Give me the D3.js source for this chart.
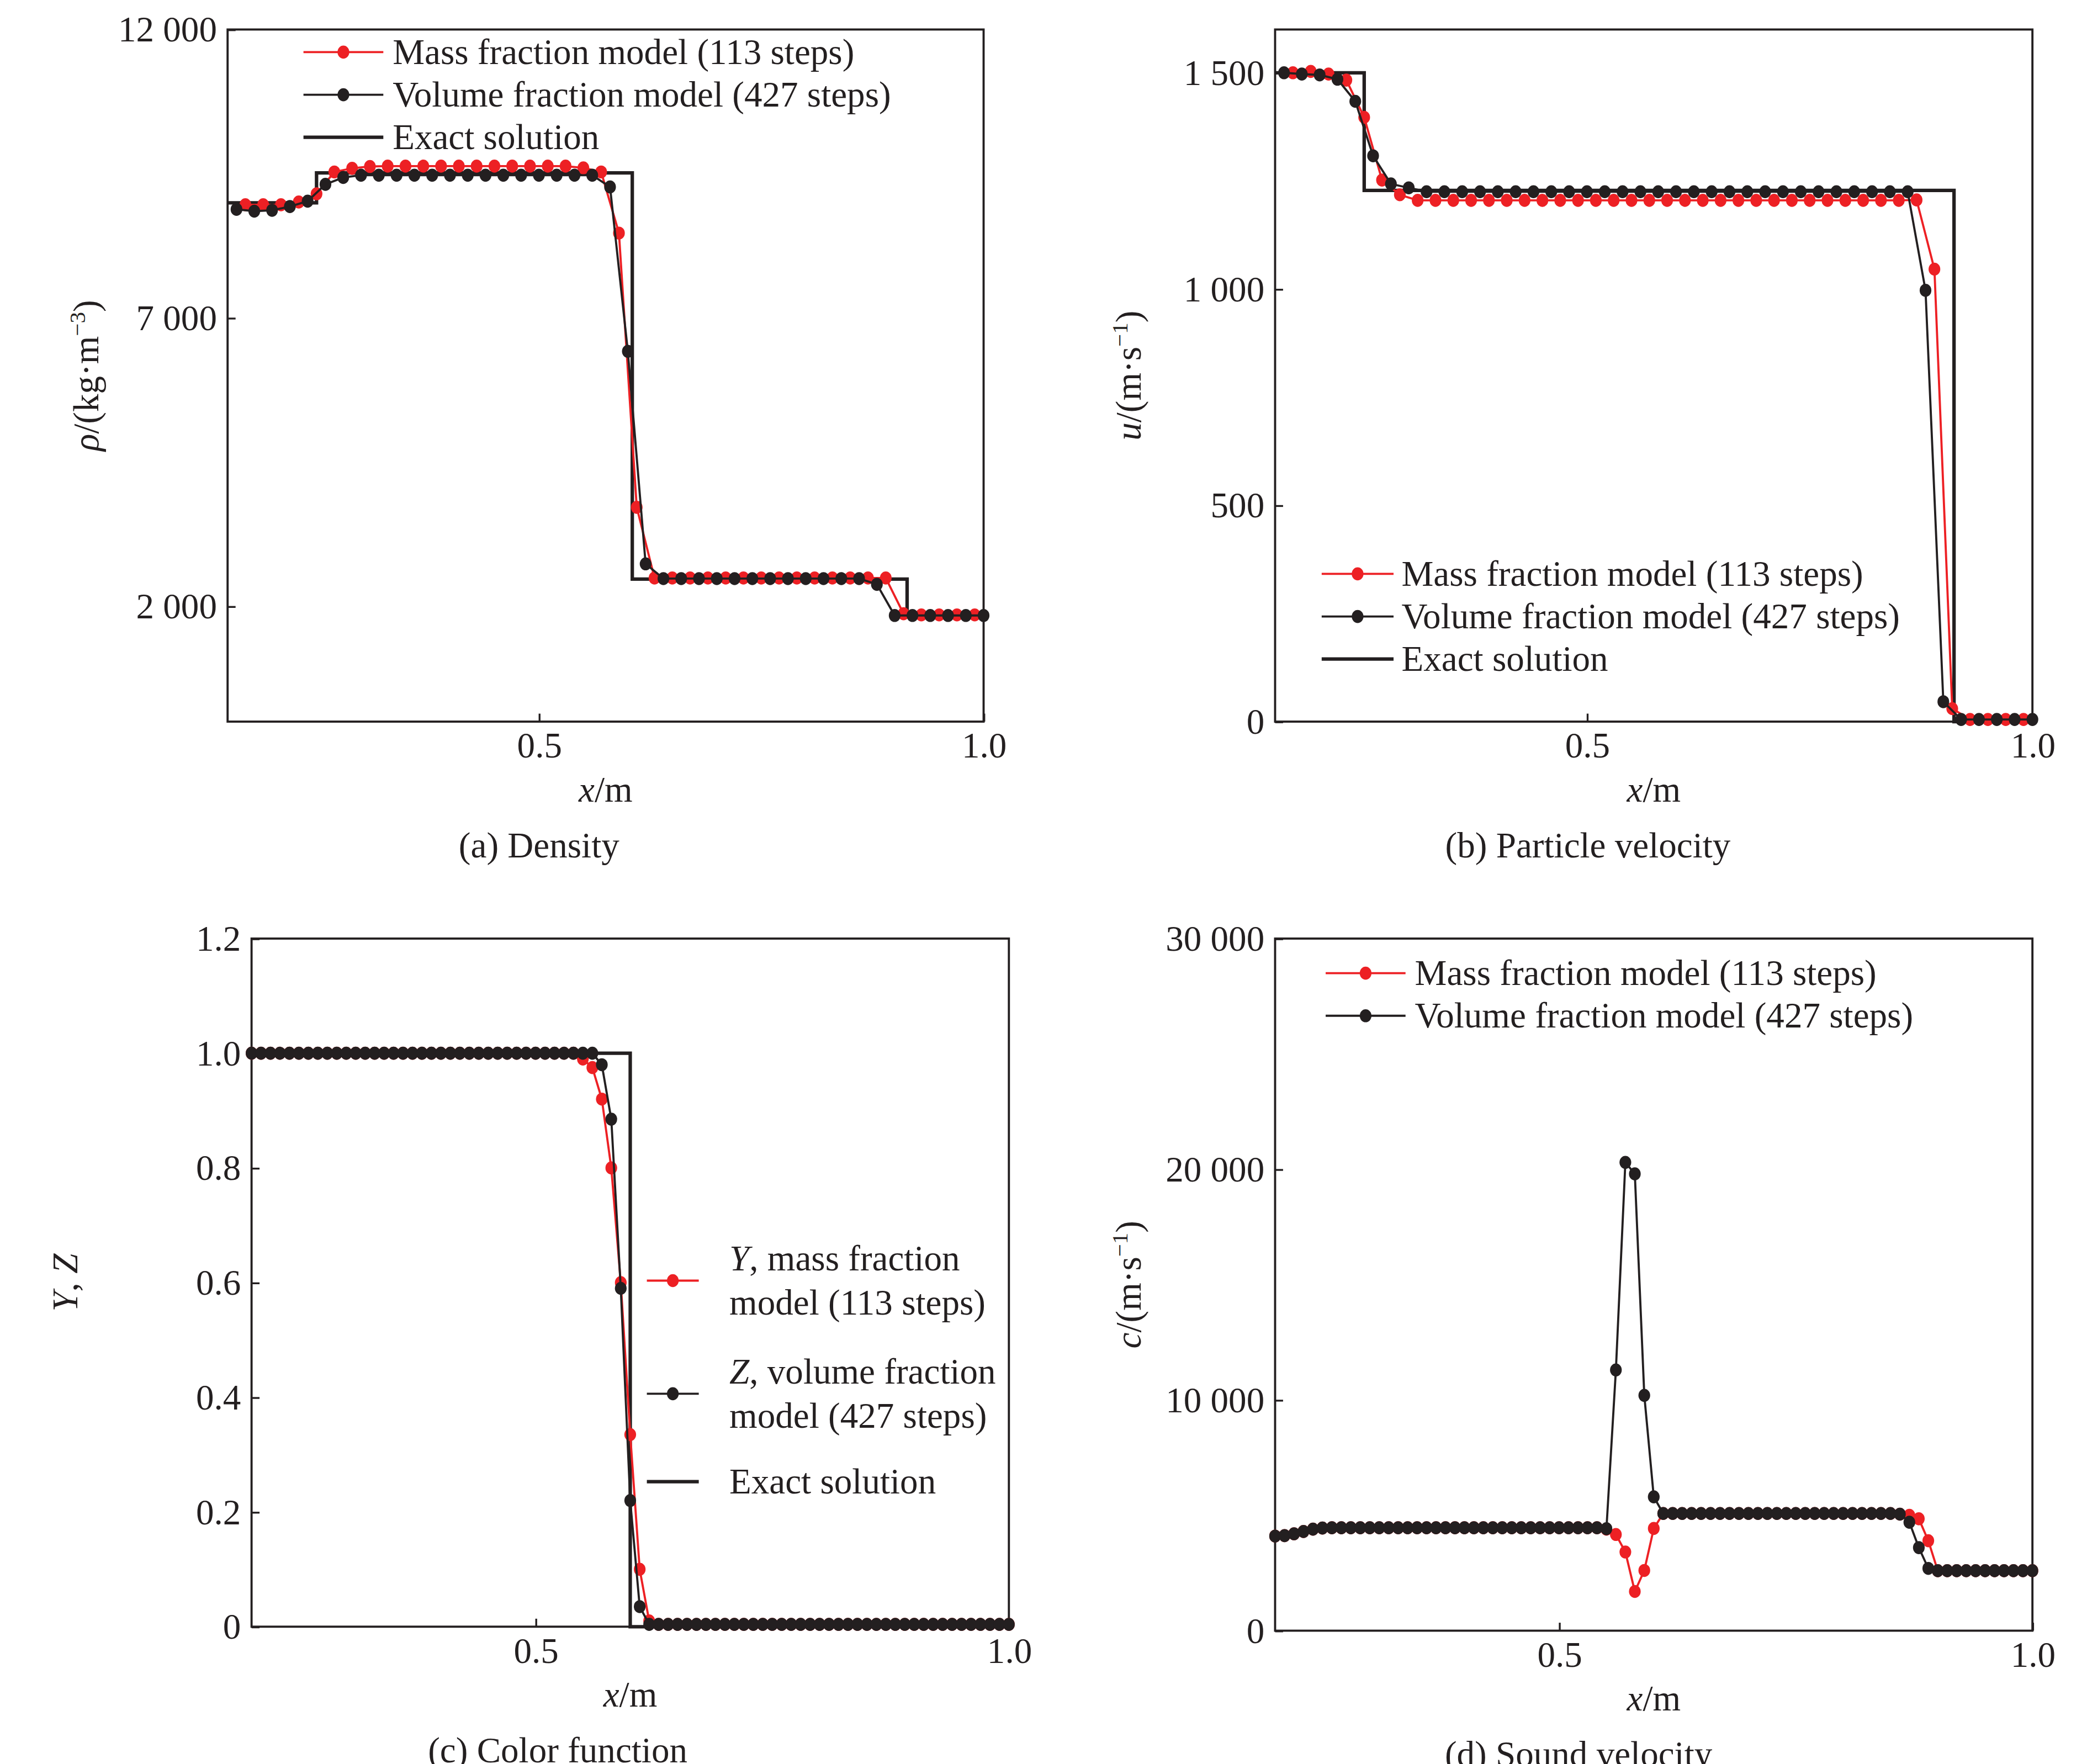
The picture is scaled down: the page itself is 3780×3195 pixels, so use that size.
<!DOCTYPE html>
<html>
<head>
<meta charset="utf-8">
<script src="https://cdn.jsdelivr.net/npm/d3@7"></script>
<style>
  body { margin: 0; background: #fff; }
  text { font-family: "Liberation Serif", "Times New Roman", serif; fill: #231f20; }
</style>
</head>
<body>
<div id="chart"></div>
<script>
// x grids
const xEven = [0.16,0.18,0.20,0.22,0.24,0.26,0.28,0.30,0.32,0.34,0.36,0.38,0.40,0.42,0.44,0.46,0.48,0.50,0.52,0.54,0.56,0.58,0.60,0.62,0.64,0.66,0.68,0.70,0.72,0.74,0.76,0.78,0.80,0.82,0.84,0.86,0.88,0.90,0.92,0.94,0.96,0.98,1.00];
const xOdd = [0.17,0.19,0.21,0.23,0.25,0.27,0.29,0.31,0.33,0.35,0.37,0.39,0.41,0.43,0.45,0.47,0.49,0.51,0.53,0.55,0.57,0.59,0.61,0.63,0.65,0.67,0.69,0.71,0.73,0.75,0.77,0.79,0.81,0.83,0.85,0.87,0.89,0.91,0.93,0.95,0.97,0.99];
const xFine = [0.20,0.21,0.22,0.23,0.24,0.25,0.26,0.27,0.28,0.29,0.30,0.31,0.32,0.33,0.34,0.35,0.36,0.37,0.38,0.39,0.40,0.41,0.42,0.43,0.44,0.45,0.46,0.47,0.48,0.49,0.50,0.51,0.52,0.53,0.54,0.55,0.56,0.57,0.58,0.59,0.60,0.61,0.62,0.63,0.64,0.65,0.66,0.67,0.68,0.69,0.70,0.71,0.72,0.73,0.74,0.75,0.76,0.77,0.78,0.79,0.80,0.81,0.82,0.83,0.84,0.85,0.86,0.87,0.88,0.89,0.90,0.91,0.92,0.93,0.94,0.95,0.96,0.97,0.98,0.99,1.00];

// (a) density
const rhoVolume = [8882,8850,8866,8930,9024,9315,9435,9473,9473,9473,9473,9473,9473,9473,9473,9473,9473,9473,9473,9473,9473,9270,6420,2735,2480,2480,2480,2480,2480,2480,2480,2480,2480,2480,2480,2480,2380,1840,1840,1840,1840,1840,1840];
const rhoMass = [8961,8961,8961,9009,9151,9530,9593,9625,9631,9631,9631,9631,9631,9631,9631,9631,9631,9631,9631,9600,9530,8470,3716,2490,2490,2490,2490,2490,2490,2490,2490,2490,2490,2490,2490,2490,2490,1870,1850,1850,1850,1850];
const rhoExactX = [0.15,0.25,0.605,0.914,1.0];
const rhoExact = [8994,9514,2470,1823,1823];

// (b) particle velocity
const uVolume = [1500,1497,1495,1485,1434,1308,1243,1234,1225,1225,1225,1225,1225,1225,1225,1225,1225,1225,1225,1225,1225,1225,1225,1225,1225,1225,1225,1225,1225,1225,1225,1225,1225,1225,1225,1225,997,46,5,5,5,5,5];
const uMass = [1500,1503,1497,1483,1397,1252,1218,1205,1205,1205,1205,1205,1205,1205,1205,1205,1205,1205,1205,1205,1205,1205,1205,1205,1205,1205,1205,1205,1205,1205,1205,1205,1205,1205,1205,1206,1046,30,5,5,5,5];
const uExactX = [0.15,0.25,0.912,1.0];
const uExact = [1500,1228,0,0];

// (c) color function
const zVolume = [1,1,1,1,1,1,1,1,1,1,1,1,1,1,1,1,1,1,1,1,1,1,1,1,1,1,1,1,1,1,1,1,1,1,1,1,1,0.98,0.885,0.59,0.22,0.035,0.004,0.004,0.004,0.004,0.004,0.004,0.004,0.004,0.004,0.004,0.004,0.004,0.004,0.004,0.004,0.004,0.004,0.004,0.004,0.004,0.004,0.004,0.004,0.004,0.004,0.004,0.004,0.004,0.004,0.004,0.004,0.004,0.004,0.004,0.004,0.004,0.004,0.004,0.004];
const yMass = [1,1,1,1,1,1,1,1,1,1,1,1,1,1,1,1,1,1,1,1,1,1,1,1,1,1,1,1,1,1,1,1,1,1,1,0.99,0.975,0.92,0.80,0.60,0.335,0.10,0.01,0.004,0.004,0.004,0.004,0.004,0.004,0.004,0.004,0.004,0.004,0.004,0.004,0.004,0.004,0.004,0.004,0.004,0.004,0.004,0.004,0.004,0.004,0.004,0.004,0.004,0.004,0.004,0.004,0.004,0.004,0.004,0.004,0.004,0.004,0.004,0.004,0.004,0.004];
const colorExactX = [0.2,0.6,1.0];
const colorExact = [1,0,0];

// (d) sound velocity
const cVolume = [4100,4120,4200,4300,4400,4450,4460,4460,4460,4460,4460,4460,4460,4460,4460,4460,4460,4460,4460,4460,4460,4460,4460,4460,4460,4460,4460,4460,4460,4460,4460,4460,4460,4460,4460,4420,11300,20300,19800,10200,5800,5080,5080,5080,5080,5080,5080,5080,5080,5080,5080,5080,5080,5080,5080,5080,5080,5080,5080,5080,5080,5080,5080,5080,5080,5080,5050,4700,3600,2700,2600,2600,2600,2600,2600,2600,2600,2600,2600,2600,2600];
const cMass = [4100,4120,4200,4300,4400,4450,4460,4460,4460,4460,4460,4460,4460,4460,4460,4460,4460,4460,4460,4460,4460,4460,4460,4460,4460,4460,4460,4460,4460,4460,4460,4460,4460,4460,4460,4400,4170,3410,1700,2610,4430,5080,5080,5080,5080,5080,5080,5080,5080,5080,5080,5080,5080,5080,5080,5080,5080,5080,5080,5080,5080,5080,5080,5080,5080,5080,5050,5000,4850,3900,2600,2600,2600,2600,2600,2600,2600,2600,2600,2600,2600];

const RED = "#ed2024", BLACK = "#231f20";
const FS = 27;
const svg = d3.select("#chart").append("svg")
  .attr("width", 3780).attr("height", 3195)
  .attr("viewBox", "-6 -10 1568 1325");

const fmtK = v => d3.format(",")(v).replace(/,/g, " ");

function panel(o) {
  const x = d3.scaleLinear().domain(o.xDomain).range([o.left, o.right]);
  const y = d3.scaleLinear().domain(o.yDomain).range([o.bottom, o.top]);
  const g = svg.append("g");

  // frame
  g.append("rect").attr("x", o.left).attr("y", o.top)
    .attr("width", o.right - o.left).attr("height", o.bottom - o.top)
    .attr("fill", "none").attr("stroke", BLACK).attr("stroke-width", 1.6);

  const xa = g.append("g").attr("transform", `translate(0,${o.bottom})`)
    .call(d3.axisBottom(x).tickValues([0.5, 1.0]).tickFormat(d3.format(".1f")).tickSize(-6).tickPadding(8));
  const ya = g.append("g").attr("transform", `translate(${o.left},0)`)
    .call(d3.axisLeft(y).tickValues(o.yTicks).tickFormat(o.yFmt).tickSize(-6).tickPadding(8));
  [xa, ya].forEach(a => {
    a.select(".domain").remove();
    a.selectAll("line").attr("stroke", BLACK).attr("stroke-width", 1.4);
    a.selectAll("text").attr("font-size", FS).attr("font-family", "Liberation Serif").attr("fill", BLACK);
  });

  const line = d3.line().x(d => x(d[0])).y(d => y(d[1]));
  if (o.exact) {
    g.append("path").datum(d3.zip(o.exact[0], o.exact[1]))
      .attr("d", line.curve(d3.curveStepAfter)).attr("fill", "none")
      .attr("stroke", BLACK).attr("stroke-width", 2.6);
    line.curve(d3.curveLinear);
  }
  o.series.forEach(s => {
    const pts = d3.zip(s.x, s.y);
    g.append("path").datum(pts).attr("d", line).attr("fill", "none")
      .attr("stroke", s.color).attr("stroke-width", 1.6);
    g.append("g").selectAll("ellipse").data(pts).join("ellipse")
      .attr("cx", d => x(d[0])).attr("cy", d => y(d[1]))
      .attr("rx", 4.4).attr("ry", 4.9).attr("fill", s.color);
  });

  // x label
  const xl = g.append("text").attr("x", (o.left + o.right) / 2).attr("y", o.bottom + 60)
    .attr("text-anchor", "middle").attr("font-size", FS);
  xl.append("tspan").attr("font-style", "italic").text("x");
  xl.append("tspan").text("/m");
  // caption
  g.append("text").attr("x", o.capX).attr("y", o.bottom + 102)
    .attr("text-anchor", "middle").attr("font-size", FS).text(o.caption);
  // y label
  const yl = g.append("text").attr("transform", `translate(${o.ylX},${(o.top + o.bottom) / 2}) rotate(-90)`)
    .attr("text-anchor", "middle").attr("font-size", FS);
  o.ylabel(yl);

  // legend
  o.legend.items.forEach((it, i) => {
    const ly = o.legend.ys[i];
    const lx0 = o.legend.x0, lx1 = o.legend.x1;
    g.append("line").attr("x1", lx0).attr("x2", lx1).attr("y1", ly).attr("y2", ly)
      .attr("stroke", it.color).attr("stroke-width", it.dot ? 1.6 : 2.6);
    if (it.dot) g.append("ellipse").attr("cx", (lx0 + lx1) / 2).attr("cy", ly)
      .attr("rx", 4.4).attr("ry", 4.9).attr("fill", it.color);
    const t = g.append("text").attr("x", o.legend.tx).attr("font-size", FS);
    it.lines.forEach((ln, j) => {
      const ts = t.append("tspan").attr("x", o.legend.tx)
        .attr("y", ly + 9 + (j - (it.lines.length - 1) / 2) * 33);
      if (ln.it) ts.append("tspan").attr("font-style", "italic").text(ln.it);
      ts.append("tspan").text(ln.t);
    });
  });
}

function unitLabel(sym, unitTxt, sup) {
  return t => {
    t.append("tspan").attr("font-style", "italic").text(sym);
    t.append("tspan").text("/(" + unitTxt);
    t.append("tspan").attr("font-size", 17).attr("dy", -10).text(sup);
    t.append("tspan").attr("dy", 10).text(")");
  };
}

const legend3 = [
  { color: RED, dot: true, lines: [{ t: "Mass fraction model (113 steps)" }] },
  { color: BLACK, dot: true, lines: [{ t: "Volume fraction model (427 steps)" }] },
  { color: BLACK, dot: false, lines: [{ t: "Exact solution" }] }
];

panel({
  left: 165, right: 733, top: 12, bottom: 532,
  xDomain: [0.15, 1.0], yDomain: [0, 12000], yTicks: [2000, 7000, 12000], yFmt: fmtK,
  exact: [rhoExactX, rhoExact],
  series: [{ x: xOdd, y: rhoMass, color: RED }, { x: xEven, y: rhoVolume, color: BLACK }],
  caption: "(a) Density", capX: 399, ylX: 68,
  ylabel: unitLabel("ρ", "kg·m", "−3"),
  legend: { x0: 222, x1: 282, tx: 289, ys: [29, 61, 93], items: legend3 }
});

panel({
  left: 952, right: 1521, top: 12, bottom: 532,
  xDomain: [0.15, 1.0], yDomain: [0, 1600], yTicks: [0, 500, 1000, 1500], yFmt: fmtK,
  exact: [uExactX, uExact],
  series: [{ x: xOdd, y: uMass, color: RED }, { x: xEven, y: uVolume, color: BLACK }],
  caption: "(b) Particle velocity", capX: 1187, ylX: 851,
  ylabel: unitLabel("u", "m·s", "−1"),
  legend: { x0: 987, x1: 1041, tx: 1047, ys: [421, 453, 485], items: legend3 }
});

panel({
  left: 183, right: 752, top: 695, bottom: 1212,
  xDomain: [0.2, 1.0], yDomain: [0, 1.2], yTicks: [0, 0.2, 0.4, 0.6, 0.8, 1.0, 1.2],
  yFmt: v => v === 0 ? "0" : d3.format(".1f")(v),
  exact: [colorExactX, colorExact],
  series: [{ x: xFine, y: yMass, color: RED }, { x: xFine, y: zVolume, color: BLACK }],
  caption: "(c) Color function", capX: 413, ylX: 52,
  ylabel: t => { t.append("tspan").attr("font-style", "italic").text("Y"); t.append("tspan").text(", "); t.append("tspan").attr("font-style", "italic").text("Z"); },
  legend: { x0: 480, x1: 519, tx: 542, ys: [952, 1037, 1103], items: [
    { color: RED, dot: true, lines: [{ it: "Y", t: ", mass fraction" }, { t: "model (113 steps)" }] },
    { color: BLACK, dot: true, lines: [{ it: "Z", t: ", volume fraction" }, { t: "model (427 steps)" }] },
    { color: BLACK, dot: false, lines: [{ t: "Exact solution" }] }
  ] }
});

panel({
  left: 952, right: 1521, top: 695, bottom: 1215,
  xDomain: [0.2, 1.0], yDomain: [0, 30000], yTicks: [0, 10000, 20000, 30000], yFmt: fmtK,
  exact: null,
  series: [{ x: xFine, y: cMass, color: RED }, { x: xFine, y: cVolume, color: BLACK }],
  caption: "(d) Sound velocity", capX: 1180, ylX: 851,
  ylabel: unitLabel("c", "m·s", "−1"),
  legend: { x0: 990, x1: 1050, tx: 1057, ys: [721, 753], items: legend3.slice(0, 2) }
});
</script>
</body>
</html>
